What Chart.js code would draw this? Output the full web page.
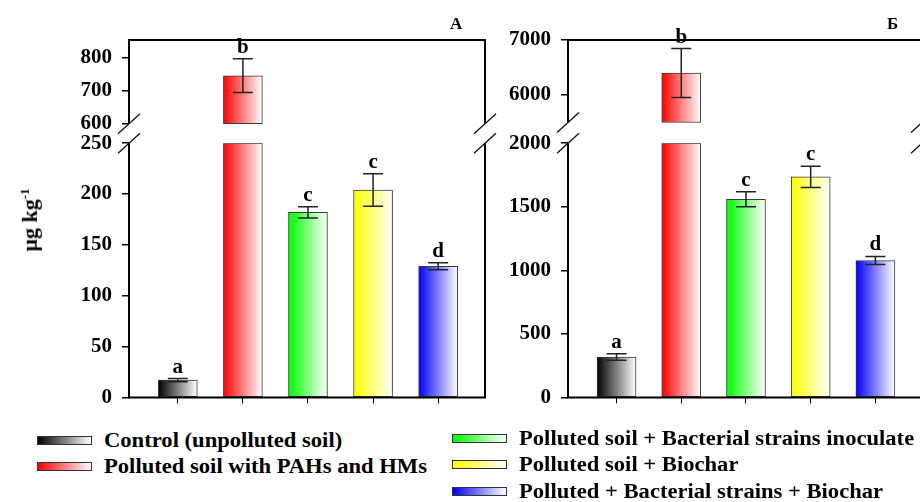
<!DOCTYPE html>
<html><head><meta charset="utf-8">
<script src="https://cdn.jsdelivr.net/npm/chart.js@4"></script>
<style>
html,body{margin:0;padding:0;background:#fff;overflow:hidden;width:920px;height:502px;}
#wrap{position:relative;width:920px;height:502px;overflow:hidden;font-family:'Liberation Serif','Times New Roman',Times,Tinos,'DejaVu Serif',serif;font-weight:bold;color:#000;}
canvas{position:absolute;top:0;}
#cA{left:0;} #cB{left:490px;}
.ttl{position:absolute;font-size:17px;line-height:17px;}
.leg{position:absolute;display:flex;align-items:center;white-space:nowrap;font-size:20px;line-height:22px;transform:translateY(-50%);}
.leg .tx{display:inline-block;transform:scaleX(1.13);transform-origin:0 50%;}
.sw{width:53px;height:7px;border:1px solid #333;margin-right:12px;flex:none;}
#ylab{position:absolute;left:30px;top:220px;transform:translate(-50%,-50%) rotate(-90deg);font-size:22px;white-space:nowrap;}
#ylab sup{font-size:13px;}
</style></head>
<body><div id="wrap">
<canvas id="cA" width="500" height="420" style="width:500px;height:420px"></canvas>
<canvas id="cB" width="440" height="420" style="width:440px;height:420px"></canvas>
<div id="ylab">μg kg<sup>-1</sup></div>
<div class="ttl" style="left:450px;top:15px">A</div>
<div class="ttl" style="left:887px;top:15px">Б</div>
<div id="legend"></div>
</div>
<script>
// ---- data ----
const categories = ['Control (unpolluted soil)', 'Polluted soil with PAHs and HMs', 'Polluted soil + Bacterial strains inoculate', 'Polluted soil + Biochar', 'Polluted + Bacterial strains + Biochar'];
const colors = ['#000000', '#ff0000', '#00ff00', '#ffff00', '#0000ff'];
const valuesA = [17, 745, 182, 204, 129];
const errorsA = [1.5, 51, 5.5, 16, 3.5];
const lettersA = ['a', 'b', 'c', 'c', 'd'];
const valuesB = [318, 6400, 1559, 1735, 1077];
const errorsB = [25, 445, 59, 83, 32];
const lettersB = ['a', 'b', 'c', 'c', 'd'];
const ticksALow = [0, 50, 100, 150, 200, 250];
const ticksAHigh = [600, 700, 800];
const ticksBLow = [0, 500, 1000, 1500, 2000];
const ticksBHigh = [6000, 7000];

const legendPos = [[37, 440], [37, 466], [452, 438], [452, 464], [452, 491]];
const leg = document.getElementById('legend');
categories.forEach((c, i) => {
  const d = document.createElement('div');
  d.className = 'leg';
  d.style.left = legendPos[i][0] + 'px';
  d.style.top = legendPos[i][1] + 'px';
  const sw = document.createElement('span');
  sw.className = 'sw';
  sw.style.background = 'linear-gradient(to right,' + colors[i] + ',#ffffff)';
  d.appendChild(sw);
  const tx = document.createElement('span');
  tx.className = 'tx';
  tx.textContent = c;
  d.appendChild(tx);
  leg.appendChild(d);
});

const BW = 39;
const FONT = "'Liberation Serif', 'Times New Roman', Times, Tinos, 'DejaVu Serif', serif";

function grad(ctx) {
  const chart = ctx.chart;
  const xs = chart.scales.x;
  if (ctx.type !== 'data' || !xs || !ctx.raw) return '#888';
  const i = ctx.raw.x;
  const cx = xs.getPixelForValue(i);
  if (!isFinite(cx)) return colors[i];
  const g = chart.ctx.createLinearGradient(cx - BW / 2, 0, cx + BW / 2, 0);
  g.addColorStop(0, colors[i]);
  g.addColorStop(1, '#ffffff');
  return g;
}

const deco = {
  id: 'deco',
  afterDatasetsDraw(chart, args, o) {
    const P = o.panel;
    const {ctx, chartArea: ca, scales} = chart;
    const xs = scales.x, lo = scales.yLow, hi = scales.yHigh;
    ctx.save();
    const yTop = ca.top, yBot = ca.bottom;
    const yBrkHi = hi.getPixelForValue(P.highMin), yBrkLo = lo.getPixelForValue(P.lowMax);
    ctx.strokeStyle = '#000'; ctx.lineWidth = 2;
    ctx.beginPath();
    [ca.left, ca.right].forEach(x => {
      ctx.moveTo(x, yTop - 1); ctx.lineTo(x, yBrkHi);
      ctx.moveTo(x, yBrkLo); ctx.lineTo(x, yBot + 1);
    });
    ctx.moveTo(ca.left - 1, yTop); ctx.lineTo(ca.right + 1, yTop);
    ctx.moveTo(ca.left - 1, yBot); ctx.lineTo(ca.right + 1, yBot);
    ctx.stroke();
    ctx.lineWidth = 1.3; ctx.strokeStyle = '#111';
    ctx.beginPath();
    [ca.left, ca.right].forEach(x => [yBrkHi, yBrkLo].forEach(y => {
      ctx.moveTo(x - 11, y + 10); ctx.lineTo(x + 11, y - 10);
    }));
    ctx.stroke();
    P.values.forEach((v, i) => {
      const ax = v > P.lowMax ? hi : lo;
      const cx = xs.getPixelForValue(i);
      const yT = ax.getPixelForValue(v + P.errors[i]);
      const yB = ax.getPixelForValue(v - P.errors[i]);
      ctx.strokeStyle = '#222'; ctx.lineWidth = 1.5;
      ctx.beginPath();
      ctx.moveTo(cx, yT); ctx.lineTo(cx, yB);
      ctx.moveTo(cx - 10, yT); ctx.lineTo(cx + 10, yT);
      ctx.moveTo(cx - 10, yB); ctx.lineTo(cx + 10, yB);
      ctx.stroke();
      ctx.fillStyle = '#000';
      ctx.font = 'bold 21px ' + FONT;
      ctx.textAlign = 'center'; ctx.textBaseline = 'alphabetic';
      ctx.fillText(P.letters[i], cx, yT - 6);
    });
    ctx.restore();
  }
};

function makePanel(P) {
  const lowData = P.values.map((v, i) => ({x: i, y: Math.min(v, P.lowMax)}));
  const highData = P.values.map((v, i) => ({x: i, y: [P.highMin, v]})).filter((d, i) => P.values[i] > P.lowMax);
  const ds = (data, axis) => ({
    data, yAxisID: axis, backgroundColor: grad, borderColor: '#3a3a3a', borderWidth: 1,
    borderSkipped: false, barThickness: BW, grouped: false
  });
  const yCommon = (ticks, width) => ({
    type: 'linear', position: 'left', stack: 'brk',
    afterBuildTicks: s => { s.ticks = ticks.map(v => ({value: v})); },
    ticks: {font: {family: FONT, weight: 'bold', size: 21}, color: '#000', padding: 10, autoSkip: false, callback: v => String(v)},
    grid: {drawOnChartArea: false, drawTicks: true, tickLength: 7, color: '#000', lineWidth: 1.5},
    border: {display: false},
    afterFit: s => { s.width = width; }
  });
  return new Chart(document.getElementById(P.canvas), {
    type: 'bar',
    data: {datasets: [ds(lowData, 'yLow'), ds(highData, 'yHigh')]},
    options: {
      responsive: false, animation: false, devicePixelRatio: 1,
      layout: {padding: {top: 40, right: P.padRight, left: 0, bottom: 0}},
      plugins: {legend: {display: false}, tooltip: {enabled: false}, deco: {panel: P}},
      events: [],
      scales: {
        x: {
          type: 'linear', min: -0.75, max: 4.72, offset: false,
          afterBuildTicks: s => { s.ticks = categories.map((c, i) => ({value: i})); },
          ticks: {display: false},
          grid: {offset: false, drawOnChartArea: false, drawTicks: true, tickLength: 6, color: '#000', lineWidth: 1},
          border: {display: false},
          afterFit: s => { s.height = 13; }
        },
        yLow: Object.assign(yCommon(P.lowTicks, P.yWidth), {min: 0, max: P.lowMax, stackWeight: 261}),
        yHigh: Object.assign(yCommon(P.highTicks, P.yWidth), {min: P.highAxisMin, max: P.highMax, stackWeight: 106})
      }
    },
    plugins: [deco]
  });
}

makePanel({canvas: 'cA', values: valuesA, errors: errorsA, letters: lettersA, lowTicks: ticksALow, highTicks: ticksAHigh,
  lowMax: 250, highMin: 600, highAxisMin: 541, highMax: 853, yWidth: 129, padRight: 15});
makePanel({canvas: 'cB', values: valuesB, errors: errorsB, letters: lettersB, lowTicks: ticksBLow, highTicks: ticksBHigh,
  lowMax: 2000, highMin: 5500, highAxisMin: 5124, highMax: 7000, yWidth: 78, padRight: 8});
</script>
</body></html>
